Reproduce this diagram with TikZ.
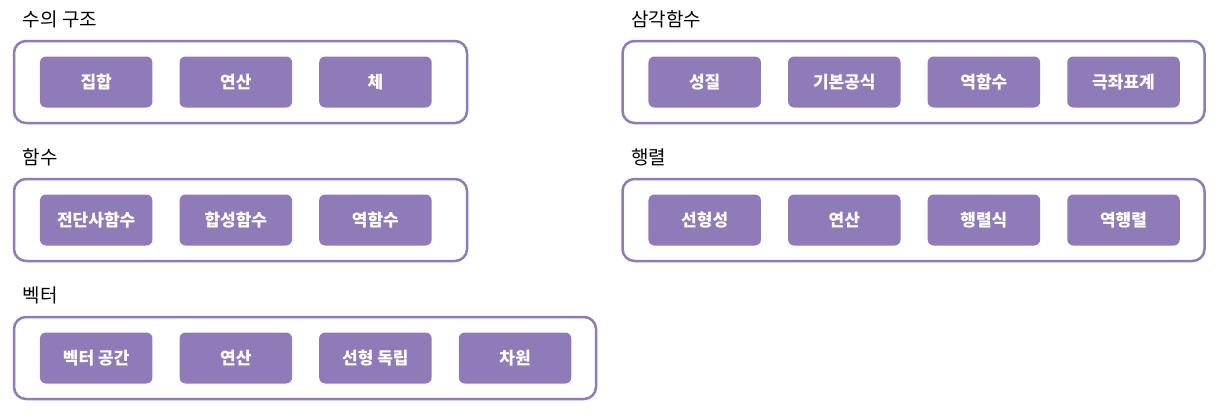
\documentclass[tikz,border=0pt]{standalone}
\usepackage{fontspec}
\setmainfont{Noto Sans CJK KR}
\usepackage{tikz}
\usetikzlibrary{positioning}
\definecolor{boxpurple}{HTML}{8E7BB8}
\tikzset{
  group/.style={draw=boxpurple,line width=2.5pt,rounded corners=12pt,minimum height=82pt,inner sep=0},
  item/.style={rectangle,rounded corners=6pt,fill=boxpurple,text=white,minimum width=112.5pt,minimum height=51pt,inner sep=0,font=\bfseries\fontsize{17}{17}\selectfont},
  title/.style={anchor=west,inner sep=0,font=\fontsize{19}{19}\selectfont}
}
\begin{document}
\begin{tikzpicture}[x=1pt,y=-1pt,node distance=26.7pt]
  \useasboundingbox (0,0) rectangle (1218,415);
  % groups
  \node[group,minimum width=453pt] (gnum) at (240.5,82) {};
  \node[group,minimum width=453pt] (gfun) at (240.5,220) {};
  \node[group,minimum width=582pt] (gvec) at (305,358) {};
  \node[group,minimum width=582pt] (gtri) at (913.5,82) {};
  \node[group,minimum width=582pt] (gmat) at (913.5,220) {};
  % titles
  \node[title] (tnum) at ([xshift=10pt,yshift=20.5pt]gnum.north west) {수의 구조};
  \node[title] (tfun) at ([xshift=10pt,yshift=20.5pt]gfun.north west) {함수};
  \node[title] (tvec) at ([xshift=10pt,yshift=20.5pt]gvec.north west) {벡터};
  \node[title] (ttri) at ([xshift=10pt,yshift=20.5pt]gtri.north west) {삼각함수};
  \node[title] (tmat) at ([xshift=10pt,yshift=20.5pt]gmat.north west) {행렬};
  % 수의 구조
  \node[item,right=27pt of gnum.west] (n1) {집합};
  \node[item,right=of n1] (n2) {연산};
  \node[item,right=of n2] (n3) {체};
  % 함수
  \node[item,right=27pt of gfun.west] (f1) {전단사함수};
  \node[item,right=of f1] (f2) {합성함수};
  \node[item,right=of f2] (f3) {역함수};
  % 벡터
  \node[item,right=27pt of gvec.west] (v1) {벡터 공간};
  \node[item,right=of v1] (v2) {연산};
  \node[item,right=of v2] (v3) {선형 독립};
  \node[item,right=of v3] (v4) {차원};
  % 삼각함수
  \node[item,right=27pt of gtri.west] (s1) {성질};
  \node[item,right=of s1] (s2) {기본공식};
  \node[item,right=of s2] (s3) {역함수};
  \node[item,right=of s3] (s4) {극좌표계};
  % 행렬
  \node[item,right=27pt of gmat.west] (m1) {선형성};
  \node[item,right=of m1] (m2) {연산};
  \node[item,right=of m2] (m3) {행렬식};
  \node[item,right=of m3] (m4) {역행렬};
\end{tikzpicture}
\end{document}
